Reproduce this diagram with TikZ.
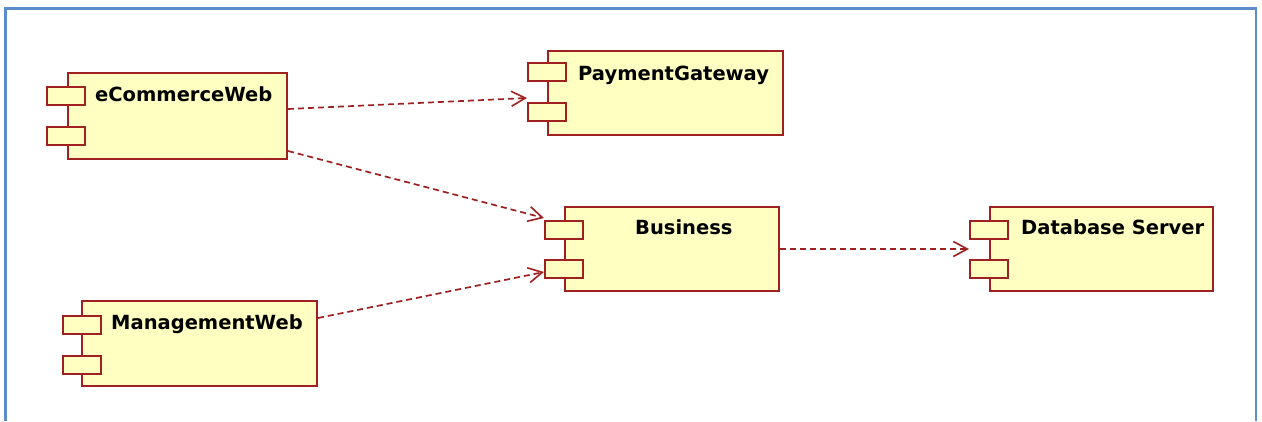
\documentclass[tikz,border=0pt]{standalone}
\usepackage{fontspec}
\setmainfont{DejaVu Sans}
\usetikzlibrary{arrows.meta,calc}

\definecolor{compfill}{RGB}{255,255,194}
\definecolor{compline}{RGB}{158,32,32}
\definecolor{framecol}{RGB}{92,140,204}

\tikzset{
  body/.style={draw=compline, fill=compfill, line width=2pt, anchor=north west,
    inner sep=0pt, minimum height=84pt},
  port/.style={draw=compline, fill=compfill, line width=2pt, anchor=north west,
    inner sep=0pt, minimum width=38pt, minimum height=18pt},
  lbl/.style={anchor=base west, inner sep=0pt,
    font=\fontsize{19.5}{23}\selectfont\bfseries},
  dep/.style={draw=compline, line width=1.7pt, dash pattern=on 6pt off 4pt,
    -{Straight Barb[length=14pt,width=15pt,line width=1.6pt]}}
}

\begin{document}
\begin{tikzpicture}[x=1pt,y=-1pt]
\useasboundingbox (0,0) rectangle (1262,421);

% outer frame (open at the bottom)
\draw[framecol, line width=2.2pt] (5.5,421) -- (5.5,8.5) -- (1256,8.5) -- (1256,421);

% eCommerceWeb
\node[body, minimum width=219pt, minimum height=86pt] (ecw) at (67,72) {};
\node[port] (ecw-p1) at (46,86) {};
\node[port] (ecw-p2) at (46,126) {};
\node[lbl] (ecw-t) at (95,101) {eCommerceWeb};

% PaymentGateway
\node[body, minimum width=235pt] (pgw) at (547,50) {};
\node[port] (pgw-p1) at (527,62) {};
\node[port] (pgw-p2) at (527,102) {};
\node[lbl] (pgw-t) at (578,80) {PaymentGateway};

% Business
\node[body, minimum width=214pt] (bus) at (564,206) {};
\node[port] (bus-p1) at (544,220) {};
\node[port] (bus-p2) at (544,259) {};
\node[lbl] (bus-t) at (635,234) {Business};

% Database Server
\node[body, minimum width=223pt] (db) at (989,206) {};
\node[port] (db-p1) at (969,220) {};
\node[port] (db-p2) at (969,259) {};
\node[lbl] (db-t) at (1021,234) {Database Server};

% ManagementWeb
\node[body, minimum width=235pt, minimum height=85pt] (mgw) at (81,300) {};
\node[port] (mgw-p1) at (62,315) {};
\node[port] (mgw-p2) at (62,355) {};
\node[lbl] (mgw-t) at (111,329) {ManagementWeb};

% dependencies
\draw[dep] ($(ecw.north east)+(0,37)$) -- ($(pgw-p2.north west)+(0,-4)$);
\draw[dep] ($(ecw.north east)+(0,79)$) -- ($(bus-p1.north west)+(0,-2)$);
\draw[dep] ($(mgw.north east)+(0,18)$) -- ($(bus-p2.west)+(0,3)$);
\draw[dep] (bus.east) -- (db-p1.west |- bus.east);
\end{tikzpicture}
\end{document}
